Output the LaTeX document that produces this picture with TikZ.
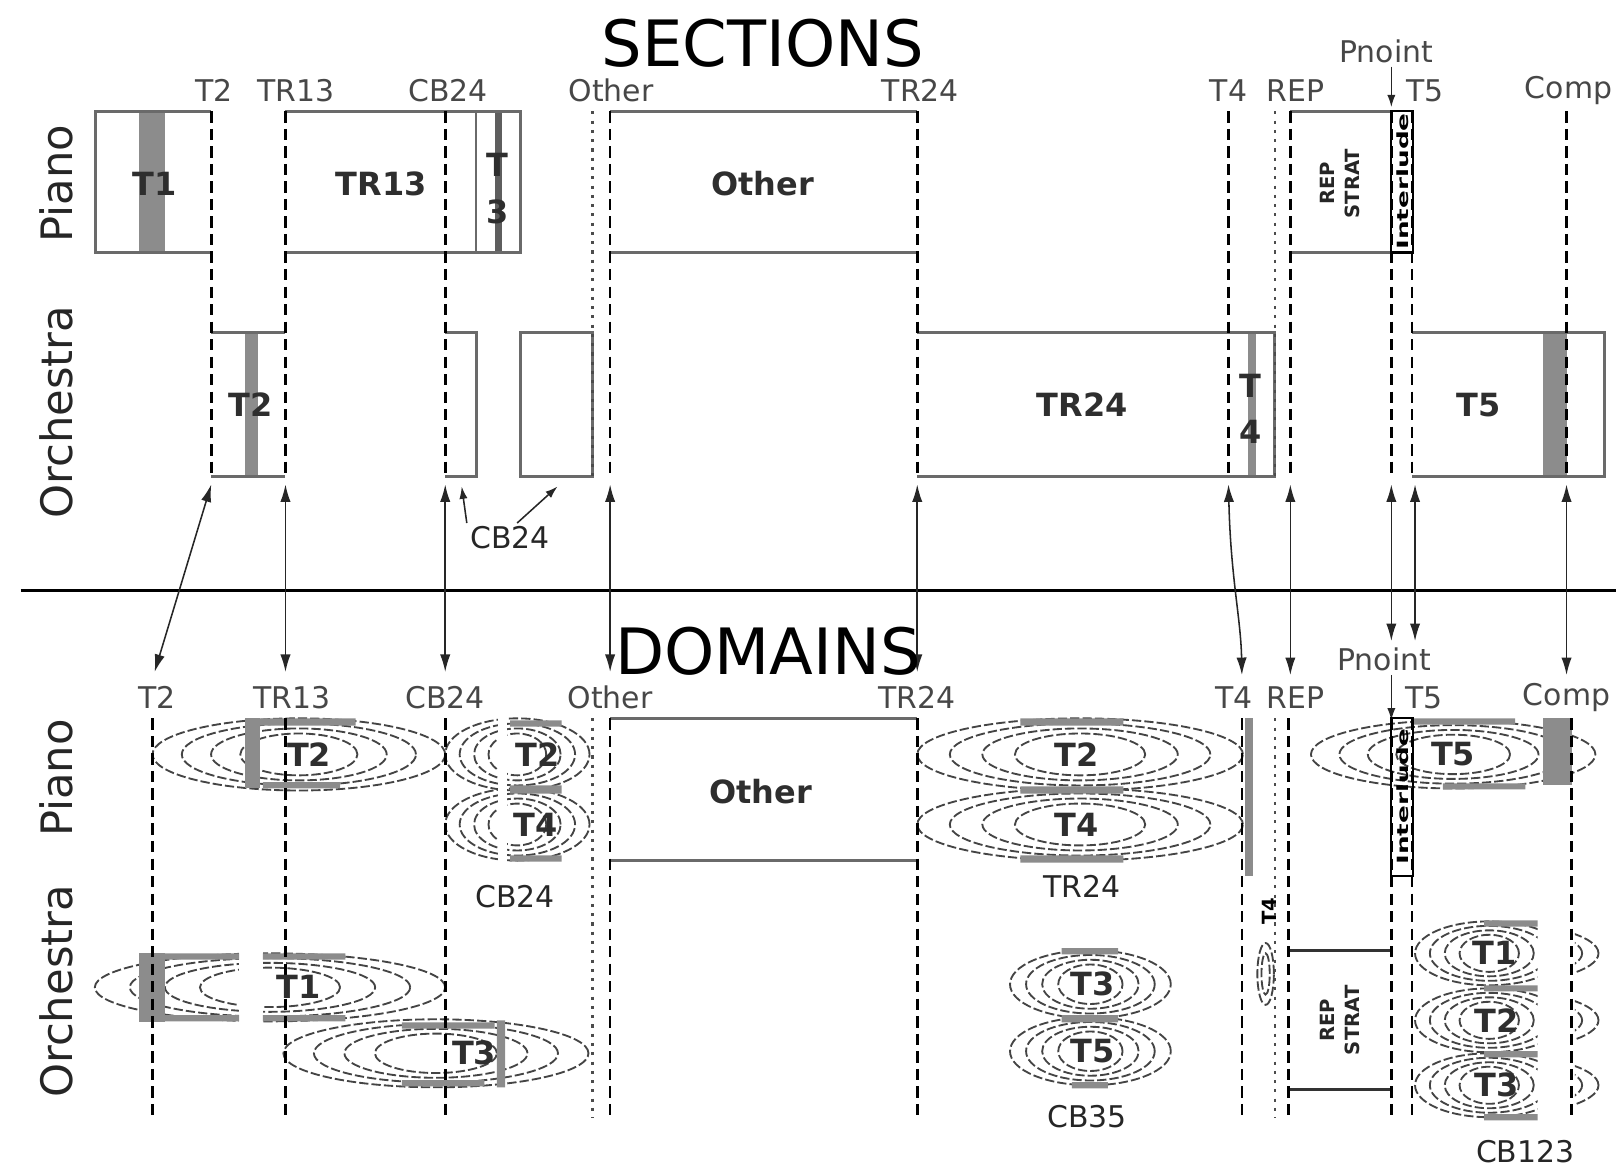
\documentclass[tikz,border=0pt]{standalone}
\usepackage{fontspec}
\setmainfont{DejaVu Sans}
\usetikzlibrary{arrows.meta}
\definecolor{SecGray}{HTML}{8C8C8C}
\definecolor{SecDark}{HTML}{5E5E5E}
\definecolor{SecEdge}{HTML}{6A6A6A}
\definecolor{SecRing}{HTML}{444444}

\begin{document}
\begin{tikzpicture}[x=1pt,y=-1pt,
  lbl/.style={font=\fontsize{29}{32}\selectfont,text=black!72},
  inlbl/.style={font=\fontsize{31}{45}\selectfont\bfseries,text=black!82},
  rowlbl/.style={font=\fontsize{42}{46}\selectfont,rotate=90,text=black!85},
  ttl/.style={font=\fontsize{62}{66}\selectfont},
  replbl/.style={font=\fontsize{19}{24}\selectfont\bfseries,rotate=90,align=center,text=black!85},
  intlbl/.style={font=\fontsize{15}{15}\selectfont\bfseries,rotate=90},
  markline/.style={black,line width=2.6pt,dash pattern=on 11pt off 6pt},
  dotline/.style={black!70,line width=2.6pt,dash pattern=on 3pt off 6pt},
  boxline/.style={SecEdge,line width=3pt},
  band/.style={fill=SecGray},
  ring/.style={SecRing,line width=1.8pt,dash pattern=on 9pt off 3pt},
  link/.style={{Latex[length=17pt,width=10pt]}-{Latex[length=17pt,width=10pt]},line width=1.5pt,black!85},
  tip/.style={-{Latex[length=12pt,width=8pt]},line width=1.5pt,black!85}]
  \useasboundingbox (0,0) rectangle (1568,1136);

  % ---------- SECTIONS ----------
  \node[ttl] (secTtl) at (740,42) {SECTIONS};
  \node[rowlbl] (sPiano) at (55,178) {Piano};
  \node[rowlbl] (sOrch) at (55,400) {Orchestra};
  \foreach \lab/\x in {T2/208,TR13/287,CB24/435,Other/593,TR24/893,T4/1192,REP/1257,T5/1383,Comp/1522}
    \node[lbl] (s\lab) at (\x,88) {\lab};
  \node[lbl] (sPn) at (1345,50) {Pnoint};
  \coordinate (sPnTip) at (1350,104);
  \draw[tip] (sPn.south -| sPnTip) -- (sPnTip);

  % piano row
  \fill[band] (135,108) rectangle (160,245);
  \draw[boxline] (205,108) -- (93,108) -- (93,245) -- (205,245);
  \node[inlbl] (boxT1) at (150,178) {T1};
  \fill[SecDark] (480,108) rectangle (487,245);
  \draw[boxline] (277,108) -- (505,108) -- (505,245) -- (277,245);
  \draw[boxline,line width=2pt] (462,108) -- (462,245);
  \node[inlbl] (boxTR13) at (370,178) {TR13};
  \node[inlbl,align=center] (boxT3) at (483,183) {T\\3};
  \draw[boxline] (592,108) -- (890,108) (592,245) -- (890,245);
  \node[inlbl] (boxOther) at (740,178) {Other};
  \draw[boxline] (1252,108) -- (1350,108) (1252,245) -- (1350,245);
  \node[replbl] (boxRep) at (1300,178) {REP\\STRAT};
  \draw[black,line width=2pt] (1350,108) rectangle (1371,245);
  \node[intlbl] (boxInt) at (1361,176) {\scalebox{1.7}[1]{Interlude}};

  % orchestra row
  \fill[band] (238,323) rectangle (250,462);
  \draw[boxline] (205,323) -- (277,323) (205,462) -- (277,462);
  \node[inlbl] (boxT2) at (243,393) {T2};
  \draw[boxline] (432,323) -- (462,323) -- (462,462) -- (432,462);
  \draw[boxline] (505,323) rectangle (575,462);
  \fill[SecGray] (1211,323) rectangle (1219,462);
  \draw[boxline] (890,323) -- (1237,323) -- (1237,462) -- (890,462);
  \node[inlbl] (boxTR24) at (1050,393) {TR24};
  \node[inlbl,align=center] (boxT4) at (1213,397) {T\\4};
  \fill[band] (1497,323) rectangle (1520,462);
  \draw[boxline] (1370,323) -- (1557,323) -- (1557,462) -- (1370,462);
  \node[inlbl] (boxT5) at (1435,393) {T5};

  \foreach \x in {205,277,432,592,890,1192,1252,1350,1370,1520}
    \draw[markline] (\x,108) -- (\x,465);
  \foreach \x in {575,1237}
    \draw[dotline] (\x,108) -- (\x,465);

  \node[lbl,text=black!85] (cbNote) at (495,522) {CB24};
  \coordinate (cbA) at (448,472);
  \coordinate (cbB) at (541,472);
  \draw[tip] (cbNote.north west) -- (cbA);
  \draw[tip] (cbNote.65) -- (cbB);

  % ---------- links ----------
  \coordinate (divL) at (20,573);
  \coordinate (divR) at (1568,573);
  \draw[line width=3pt] (divL) -- (divR);
  \foreach \n/\xa/\xb/\yb in {T2/205/150/652,TR13/277/277/652,CB24/432/432/652,Other/592/592/652,TR24/890/890/652,REP/1252/1252/655,Pn/1350/1350/622,Tf/1373/1373/622,Comp/1520/1520/655} {
    \coordinate (up\n) at (\xa,470);
    \coordinate (dn\n) at (\xb,\yb);
    \draw[link] (up\n) -- (dn\n);
  }
  \coordinate (upT4) at (1192,470);
  \coordinate (dnT4) at (1205,655);
  \draw[link] (upT4) .. controls (1194,560) and (1204,600) .. (dnT4);

  % ---------- DOMAINS ----------
  \node[ttl] (domTtl) at (745,632) {DOMAINS};
  \node[rowlbl] (dPiano) at (55,755) {Piano};
  \node[rowlbl] (dOrch) at (55,962) {Orchestra};
  \foreach \lab/\x in {T2/152,TR13/283,CB24/432,Other/592,TR24/890,T4/1197,REP/1257,T5/1382,Comp/1520}
    \node[lbl] (d\lab) at (\x,677) {\lab};
  \node[lbl] (dPn) at (1343,640) {Pnoint};
  \coordinate (dPnTip) at (1350,699);
  \draw[tip] (dPn.south -| dPnTip) -- (dPnTip);

  % piano row
  \foreach \f in {1,.8,.6,.4} {
    \draw[ring] (290,732) ellipse [x radius=\f*142pt, y radius={(0.3+0.7*\f)*35pt}];
    \draw[ring] (502,732) ellipse [x radius=\f*70pt, y radius={(0.3+0.7*\f)*35pt}];
    \draw[ring] (502,800) ellipse [x radius=\f*70pt, y radius={(0.3+0.7*\f)*35pt}];
    \draw[ring] (1048,732) ellipse [x radius=\f*158pt, y radius={(0.3+0.7*\f)*35pt}];
    \draw[ring] (1048,800) ellipse [x radius=\f*158pt, y radius={(0.3+0.7*\f)*35pt}];
    \draw[ring] (1410,732) ellipse [x radius=\f*138pt, y radius={(0.3+0.7*\f)*33pt}];
  }
  \fill[white] (483,694) rectangle (492,840);
  \fill[band] (238,697) rectangle (252,765);
  \fill[SecGray] (252,697) rectangle (345,704) (255,759) rectangle (330,765);
  \fill[SecGray] (495,699) rectangle (545,705) (495,762) rectangle (545,770) (495,830) rectangle (545,836);
  \fill[SecGray] (990,697) rectangle (1090,704) (990,763) rectangle (1090,770) (990,830) rectangle (1090,837);
  \fill[SecGray] (1208,697) rectangle (1216,850);
  \fill[SecGray] (1372,697) rectangle (1470,703) (1400,760) rectangle (1480,766);
  \fill[band] (1497,697) rectangle (1525,762);
  \draw[boxline] (592,697) -- (890,697) (592,835) -- (890,835);
  \node[inlbl] (dOther) at (738,768) {Other};
  \draw[black,line width=2pt] (1350,697) rectangle (1371,850);
  \node[intlbl] (dInt) at (1361,773) {\scalebox{1.7}[1]{Interlude}};

  % orchestra row
  \foreach \f in {1,.8,.6,.4} {
    \draw[ring] (262,958) ellipse [x radius=\f*170pt, y radius={(0.3+0.7*\f)*33pt}];
    \draw[ring] (423,1022) ellipse [x radius=\f*148pt, y radius={(0.3+0.7*\f)*33pt}];
    \draw[ring] (1058,955) ellipse [x radius=\f*78pt, y radius={(0.3+0.7*\f)*33pt}];
    \draw[ring] (1058,1020) ellipse [x radius=\f*78pt, y radius={(0.3+0.7*\f)*33pt}];
  }
  \fill[white] (232,912) rectangle (255,1003);
  \fill[band] (135,925) rectangle (160,992);
  \fill[SecGray] (160,925) rectangle (232,931) (255,925) rectangle (335,931) (160,985) rectangle (232,991) (255,985) rectangle (335,991);
  \fill[SecGray] (482,990) rectangle (490,1055) (390,992) rectangle (480,998) (390,1048) rectangle (470,1054);
  \fill[SecGray] (1030,920) rectangle (1085,926) (1030,985) rectangle (1085,992) (1040,1050) rectangle (1075,1056);
  \draw[ring] (1228,945) ellipse [x radius=8pt, y radius=30pt];
  \draw[ring] (1228,945) ellipse [x radius=4pt, y radius=20pt];
  \node[intlbl,font=\fontsize{19}{19}\selectfont\bfseries] (dT4b) at (1232,884) {T4};
  \begin{scope}
    \clip (1370,880) rectangle (1492,1095);
    \foreach \y in {925,990,1053}
      \foreach \f in {1,.8,.6,.4}
        \draw[ring] (1445,\y) ellipse [x radius=\f*72pt, y radius={(0.3+0.7*\f)*31pt}];
    \fill[SecGray] (1440,893) rectangle (1492,899) (1440,956) rectangle (1492,962) (1440,1020) rectangle (1492,1026) (1440,1081) rectangle (1492,1087);
  \end{scope}
  \begin{scope}
    \clip (1528,880) rectangle (1568,1095);
    \foreach \y in {925,990,1053}
      \foreach \f in {1,.85}
        \draw[ring] (1445,\y) ellipse [x radius=\f*106pt, y radius=\f*30pt];
  \end{scope}
  \draw[boxline,black!80] (1250,922) -- (1350,922) (1250,1057) -- (1350,1057);
  \node[replbl] (dRep) at (1300,990) {REP\\STRAT};

  \foreach \x in {148,277,432,592,890,1205,1250,1350,1370,1525}
    \draw[markline] (\x,697) -- (\x,1085);
  \foreach \x in {575,1237}
    \draw[dotline] (\x,697) -- (\x,1085);

  \node[inlbl] (dT2a) at (300,732) {T2};
  \node[inlbl] (dT2b) at (522,732) {T2};
  \node[inlbl] (dT4a) at (520,800) {T4};
  \node[lbl,text=black!85] (dCB24) at (500,870) {CB24};
  \node[inlbl] (dT2c) at (1045,732) {T2};
  \node[inlbl] (dT4c) at (1045,800) {T4};
  \node[lbl,text=black!85] (dTR24) at (1050,860) {TR24};
  \node[inlbl] (dT5a) at (1410,732) {T5};
  \node[inlbl] (dT1a) at (290,958) {T1};
  \node[inlbl] (dT3a) at (460,1022) {T3};
  \node[inlbl] (dT3b) at (1060,955) {T3};
  \node[inlbl] (dT5b) at (1060,1020) {T5};
  \node[lbl,text=black!85] (dCB35) at (1055,1083) {CB35};
  \node[inlbl] (dT1b) at (1450,925) {T1};
  \node[inlbl] (dT2d) at (1452,990) {T2};
  \node[inlbl] (dT3c) at (1452,1053) {T3};
  \node[lbl,text=black!85] (dCB123) at (1480,1117) {CB123};
\end{tikzpicture}
\end{document}
